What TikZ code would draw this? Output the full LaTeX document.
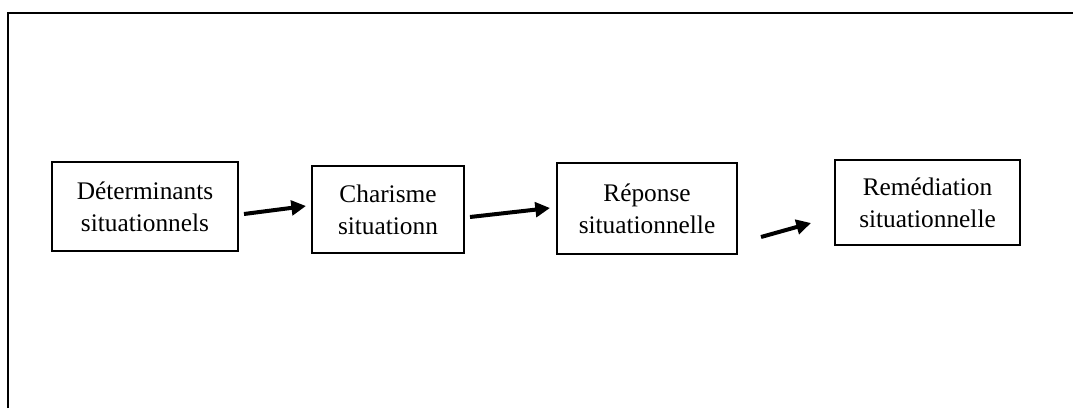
\documentclass[tikz,border=0pt]{standalone}
\usepackage{fontspec}
\setmainfont{Liberation Serif}
\usetikzlibrary{arrows.meta,calc}
\begin{document}
\begin{tikzpicture}[x=0.75pt,y=-0.75pt,
  stage/.style={draw,line width=1.5pt,minimum width=#1,align=center,inner sep=0pt,
    font=\fontsize{19}{24}\selectfont},
  flow/.style={line width=3pt,-{Triangle[length=11pt,width=11pt]}}]
\useasboundingbox (0,0) rectangle (1073,408);
% frame
\draw[line width=1.1pt] (8,408) -- (8,13) -- (1073,13);
% stages
\node[stage=139.5pt,minimum height=66.75pt] (b1) at (145,206.5) {Déterminants\\situationnels};
\node[stage=114pt,minimum height=65.25pt] (b2) at (388,209.5) {Charisme\\situationn};
\node[stage=135pt,minimum height=68.25pt] (b3) at (647,208.5) {Réponse\\situationnelle};
\node[stage=138.75pt,minimum height=63.75pt] (b4) at (927.5,202.5) {Remédiation\\situationnelle};
% arrow ends
\coordinate (a1s) at ($(b1.east)+(5,7.5)$);
\coordinate (a1e) at ($(b2.west)+(-5,-3.5)$);
\coordinate (a2s) at ($(b2.east)+(5,7.5)$);
\coordinate (a2e) at ($(b3.west)+(-6,-0.5)$);
\coordinate (a3s) at ($(b3.east)+(23,28.5)$);
\coordinate (a3e) at ($(b4.west)+(-23,20.5)$);
\draw[flow] (a1s) -- (a1e);
\draw[flow] (a2s) -- (a2e);
\draw[flow] (a3s) -- (a3e);
\end{tikzpicture}
\end{document}
